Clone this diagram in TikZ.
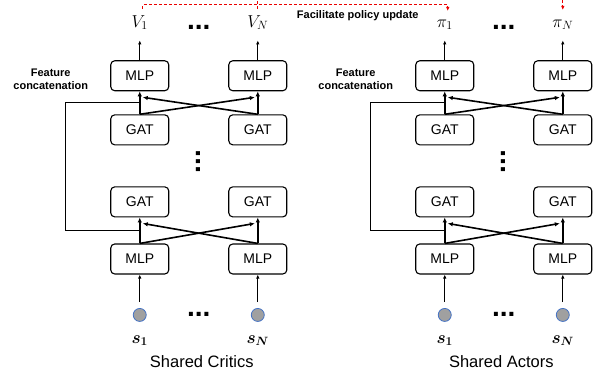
\documentclass[tikz,border=0pt]{standalone}
\usepackage{amsmath}
\usepackage[no-math]{fontspec}
\setmainfont{Liberation Sans}
\usetikzlibrary{matrix,positioning,calc,arrows.meta}
\definecolor{stategray}{RGB}{160,160,160}
\definecolor{stateblue}{RGB}{68,114,196}
\definecolor{updred}{RGB}{235,0,0}

\begin{document}
\begin{tikzpicture}[x=1pt, y=1pt, every text node part/.style={align=center},
  box/.style={draw, rounded corners=4pt, line width=1.1pt, minimum width=58pt, minimum height=30pt, inner sep=0pt, font=\fontsize{14}{16}\selectfont},
  outv/.style={inner sep=0pt, text height=12pt, text depth=4pt, font=\fontsize{17}{17}\selectfont},
  inp/.style={inner sep=0pt, text height=8pt, text depth=3pt, font=\fontsize{17}{17}\selectfont},
  agent/.style={circle, draw=stateblue, fill=stategray, line width=0.8pt, minimum size=13pt, inner sep=0pt},
  hdots/.style={inner sep=0pt, text height=4pt, text depth=0pt, font=\fontsize{28}{28}\selectfont\bfseries},
  feat/.style={inner sep=0pt, font=\fontsize{11}{13}\selectfont\bfseries},
  paneltitle/.style={inner sep=0pt, font=\fontsize{16.5}{18}\selectfont},
  xarrow/.style={-{Latex[length=5pt,width=4.5pt]}, line width=1.6pt},
  thinarrow/.style={-{Latex[length=4pt,width=3.5pt]}, line width=0.9pt},
  skipline/.style={line width=1.2pt},
  update/.style={draw=updred, dash pattern=on 3pt off 2pt, line width=1pt, -{Latex[length=4pt,width=3.5pt]}}]
  \useasboundingbox (0,0) rectangle (594,372);
  \clip (0,0) rectangle (594,372);

  % critics
  \matrix (critic) [row sep=0pt, column sep=17.8pt, inner sep=0pt, matrix anchor=north west, nodes={anchor=center}] at (110,357) {
  \node (cv1) [outv] {$V_1$}; & \node (cdots1) [hdots, yshift=-4pt] {...}; & \node (cvn) [outv] {$V_N$}; \\[29pt]
  \node (cmlp1) [box] {MLP}; & & \node (cmlpn) [box] {MLP}; \\[23pt]
  \node (cgat1) [box] {GAT}; & & \node (cgatn) [box] {GAT}; \\[4.3pt]
  & \node (cvdots) [hdots, rotate=90] {...}; & \\[13.3pt]
  \node (cgatb1) [box] {GAT}; & & \node (cgatbn) [box] {GAT}; \\[26pt]
  \node (cmlpb1) [box] {MLP}; & & \node (cmlpbn) [box] {MLP}; \\[33.5pt]
  \node (cs1) [agent] {}; & \node (cdots2) [hdots] {...}; & \node (csn) [agent] {}; \\[13.5pt]
  \node (cin1) [inp] {$\boldsymbol{s_1}$}; & & \node (cinn) [inp] {$\boldsymbol{s_N}$}; \\
  };
  \node (cfeat) [feat, left=22pt of cmlp1, yshift=-3.5pt] {Feature\\concatenation};
  \node (ccap) [paneltitle, below=9pt of critic, xshift=3pt] {Shared Critics};

  % actors
  \matrix (actor) [row sep=0pt, column sep=17.8pt, inner sep=0pt, matrix anchor=north west, nodes={anchor=center}] at (415,357) {
  \node (av1) [outv] {$\pi_1$}; & \node (adots1) [hdots, yshift=-4pt] {...}; & \node (avn) [outv] {$\pi_N$}; \\[29pt]
  \node (amlp1) [box] {MLP}; & & \node (amlpn) [box] {MLP}; \\[23pt]
  \node (agat1) [box] {GAT}; & & \node (agatn) [box] {GAT}; \\[4.3pt]
  & \node (avdots) [hdots, rotate=90] {...}; & \\[13.3pt]
  \node (agatb1) [box] {GAT}; & & \node (agatbn) [box] {GAT}; \\[26pt]
  \node (amlpb1) [box] {MLP}; & & \node (amlpbn) [box] {MLP}; \\[33.5pt]
  \node (as1) [agent] {}; & \node (adots2) [hdots] {...}; & \node (asn) [agent] {}; \\[13.5pt]
  \node (ain1) [inp] {$\boldsymbol{s_1}$}; & & \node (ainn) [inp] {$\boldsymbol{s_N}$}; \\
  };
  \node (afeat) [feat, left=22pt of amlp1, yshift=-3.5pt] {Feature\\concatenation};
  \node (acap) [paneltitle, below=9pt of actor, xshift=-2.5pt] {Shared Actors};

  % connections, critics
  \draw[thinarrow] ([yshift=6pt]cs1.north) -- (cmlpb1.south);
  \draw[thinarrow] ([yshift=6pt]csn.north) -- (cmlpbn.south);
  \draw[xarrow] (cmlpb1.north) -- (cgatb1.south);
  \draw[xarrow] (cmlpb1.north) -- ([xshift=-3pt,yshift=-6pt]cgatbn.south);
  \draw[xarrow] (cmlpbn.north) -- ([xshift=3pt,yshift=-6pt]cgatb1.south);
  \draw[xarrow] (cmlpbn.north) -- (cgatbn.south);
  \draw[xarrow] (cgat1.north) -- (cmlp1.south);
  \draw[xarrow] (cgat1.north) -- ([xshift=-3pt,yshift=-6pt]cmlpn.south);
  \draw[xarrow] (cgatn.north) -- ([xshift=3pt,yshift=-6pt]cmlp1.south);
  \draw[xarrow] (cgatn.north) -- (cmlpn.south);
  \draw[skipline] ($(cmlpb1.north)!.5!(cgatb1.south)$) -- ++(-74pt,0) |- ($(cgat1.north)!.5!(cmlp1.south)$);
  \draw[thinarrow] (cmlp1.north) -- ([yshift=-9pt]cv1.south);
  \draw[thinarrow] (cmlpn.north) -- ([yshift=-9pt]cvn.south);

  % connections, actors
  \draw[thinarrow] ([yshift=6pt]as1.north) -- (amlpb1.south);
  \draw[thinarrow] ([yshift=6pt]asn.north) -- (amlpbn.south);
  \draw[xarrow] (amlpb1.north) -- (agatb1.south);
  \draw[xarrow] (amlpb1.north) -- ([xshift=-3pt,yshift=-6pt]agatbn.south);
  \draw[xarrow] (amlpbn.north) -- ([xshift=3pt,yshift=-6pt]agatb1.south);
  \draw[xarrow] (amlpbn.north) -- (agatbn.south);
  \draw[xarrow] (agat1.north) -- (amlp1.south);
  \draw[xarrow] (agat1.north) -- ([xshift=-3pt,yshift=-6pt]amlpn.south);
  \draw[xarrow] (agatn.north) -- ([xshift=3pt,yshift=-6pt]amlp1.south);
  \draw[xarrow] (agatn.north) -- (amlpn.south);
  \draw[skipline] ($(amlpb1.north)!.5!(agatb1.south)$) -- ++(-74pt,0) |- ($(agat1.north)!.5!(amlp1.south)$);
  \draw[thinarrow] (amlp1.north) -- ([yshift=-9pt]av1.south);
  \draw[thinarrow] (amlpn.north) -- ([yshift=-9pt]avn.south);

  % policy update
  \draw[update] ([xshift=3pt,yshift=6pt]cv1.north) -- ++(0,4pt) -| ([xshift=3pt,yshift=4pt]av1.north)
    node (upd) [feat, pos=0.3525, below=5pt, text=black] {Facilitate policy update};
  \draw[update] ([yshift=6pt]cvn.north) -- ++(0,12pt) -| ([yshift=5pt]avn.north);
\end{tikzpicture}
\end{document}
